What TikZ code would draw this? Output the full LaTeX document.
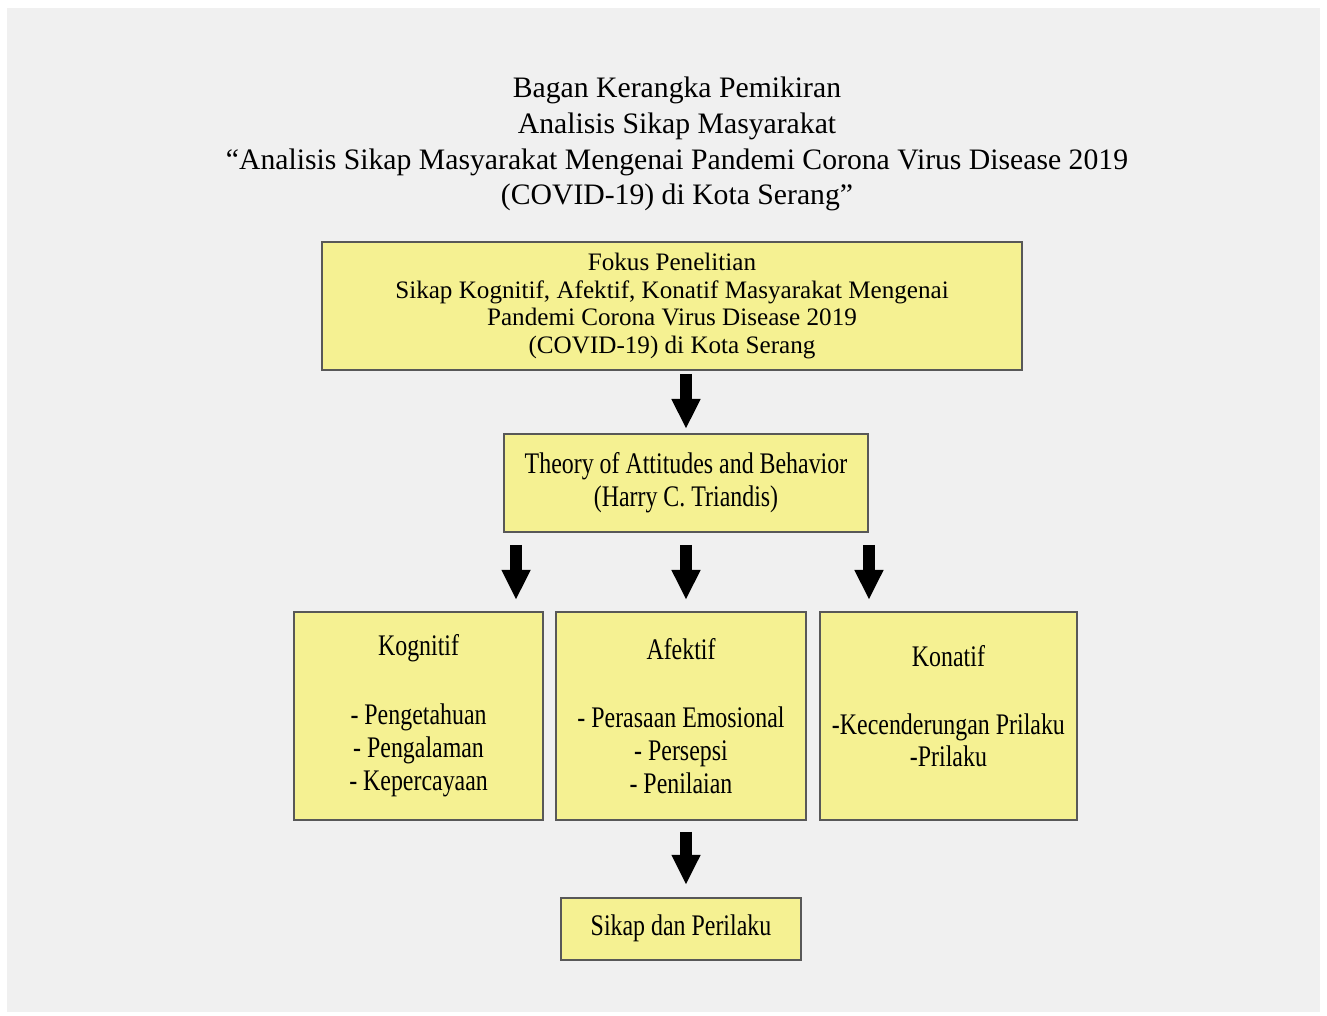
\documentclass[tikz,border=0pt]{standalone}
\usepackage{fontspec}
\setmainfont{Liberation Serif}
\newfontfamily\narrowserif[FakeStretch=0.8]{Liberation Serif}
\usetikzlibrary{arrows.meta, positioning, calc}

\definecolor{boxyellow}{RGB}{245,241,146}
\definecolor{boxedge}{RGB}{88,88,88}
\definecolor{panelgray}{RGB}{240,240,240}

\begin{document}
\begin{tikzpicture}[
  box/.style={
    draw=boxedge, line width=1.1pt, fill=boxyellow,
    align=center, inner sep=0pt
  },
  judulstyle/.style={align=center, font=\fontsize{16.9}{20.4}\selectfont},
  fokusbox/.style={
    box, minimum width=14cm, minimum height=2.56cm,
    font=\fontsize{14.3}{15.9}\selectfont
  },
  narrowbox/.style={box, font=\narrowserif\fontsize{17}{18.7}\selectfont},
  aspek/.style={narrowbox, minimum height=4.16cm},
  blk/.style={-{Triangle[length=0.6cm, width=0.54cm]}, line width=0.24cm, black}
]
  % page and grey panel
  \useasboundingbox (0,0) rectangle (26.54,20.3);
  \fill[white] (0,0) rectangle (26.54,20.3);
  \fill[panelgray] (0.14,0.06) rectangle (26.4,20.14);

  \node[judulstyle] (judul) at (13.54,17.42) {Bagan Kerangka Pemikiran\\
    Analisis Sikap Masyarakat\\
    “Analisis Sikap Masyarakat Mengenai Pandemi Corona Virus Disease 2019\\
    (COVID-19) di Kota Serang”};

  \node[fokusbox] (fokus) at (13.44,14.18) {Fokus Penelitian\\
    Sikap Kognitif, Afektif, Konatif Masyarakat Mengenai\\
    Pandemi Corona Virus Disease 2019\\
    (COVID-19) di Kota Serang};
  \node[narrowbox, minimum width=7.28cm, minimum height=1.96cm,
    below=1.24cm of fokus, xshift=0.28cm] (teori)
    {Theory of Attitudes and Behavior\\ (Harry C. Triandis)};

  \node[aspek, minimum width=5cm, below=1.56cm of teori, xshift=-0.1cm] (afek)
    {Afektif\\[20.4pt] - Perasaan Emosional\\ - Persepsi\\ - Penilaian};
  \node[aspek, minimum width=4.98cm, left=0.22cm of afek] (kog)
    {Kognitif\\[20.4pt] - Pengetahuan\\ - Pengalaman\\ - Kepercayaan};
  \node[aspek, minimum width=5.14cm, right=0.24cm of afek] (kon)
    {Konatif\\[19.6pt] -Kecenderungan Prilaku\\ -Prilaku\\[-7.9pt]\mbox{}};

  \node[narrowbox, minimum width=4.8cm, minimum height=1.24cm,
    below=1.52cm of afek] (sikap) {Sikap dan Perilaku};

  % arrows
  \draw[blk, shorten <=0.06cm, shorten >=0.08cm] (fokus.south -| teori.north) -- (teori.north);
  \coordinate (kiri) at ($(teori.south west)+(0.26,0)$);
  \draw[blk, shorten <=0.24cm, shorten >=0.22cm] (kiri) -- (kiri |- kog.north);
  \draw[blk, shorten <=0.24cm, shorten >=0.22cm] (teori.south) -- (teori.south |- afek.north);
  \draw[blk, shorten <=0.24cm, shorten >=0.22cm] (teori.south east) -- (teori.south east |- kon.north);
  \draw[blk, shorten <=0.22cm, shorten >=0.24cm] ([xshift=0.1cm]afek.south) -- ([xshift=0.1cm]sikap.north);
\end{tikzpicture}
\end{document}
